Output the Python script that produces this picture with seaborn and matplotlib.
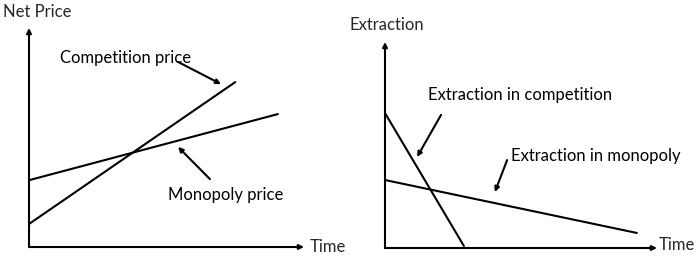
import matplotlib
matplotlib.use("Agg")
import matplotlib.pyplot as plt
import seaborn as sns
import pandas as pd

# ---- data (schematic) ----
price_time = [0.0, 7.5]
competition_price = [1.05, 7.53]
mono_time = [0.0, 9.05]
monopoly_price = [3.05, 6.07]

ext_comp_time = [0.0, 2.90]
extraction_competition = [6.55, 0.10]
ext_mono_time = [0.0, 9.26]
extraction_monopoly = [3.30, 0.73]

left_labels = {"y": "Net Price", "x": "Time",
               "comp": "Competition price", "mono": "Monopoly price"}
right_labels = {"y": "Extraction", "x": "Time",
                "comp": "Extraction in competition", "mono": "Extraction in monopoly"}

sns.set_theme(style="white")
plt.rcParams["font.family"] = ["Lato", "DejaVu Sans"]

fig = plt.figure(figsize=(6.99, 2.59), dpi=100)
W, H = 699, 259
axL = fig.add_axes([29 / W, (H - 247) / H, 275 / W, 219 / H])
axR = fig.add_axes([385 / W, (H - 248) / H, 272 / W, 206 / H])

FS = 12
LW = 1.5


def setup(ax):
    ax.set_xlim(0, 10)
    ax.set_ylim(0, 10)
    ax.axis("off")
    ap = dict(arrowstyle="-|>", lw=LW, color="black", mutation_scale=7,
              shrinkA=0, shrinkB=0)
    ax.annotate("", xy=(10, 0), xytext=(0, 0), arrowprops=ap, annotation_clip=False)
    ax.annotate("", xy=(0, 10), xytext=(0, 0), arrowprops=ap, annotation_clip=False)


def pointer(ax, text, txy, start, end):
    ax.text(txy[0], txy[1], text, fontsize=FS, ha="left", va="center",
            color="black", clip_on=False)
    ax.annotate("", xy=end, xytext=start,
                arrowprops=dict(arrowstyle="-|>", lw=LW, color="black",
                                mutation_scale=7, shrinkA=0, shrinkB=0),
                annotation_clip=False)


# Left panel
setup(axL)
dfL1 = pd.DataFrame({"t": price_time, "v": competition_price})
dfL2 = pd.DataFrame({"t": mono_time, "v": monopoly_price})
sns.lineplot(data=dfL1, x="t", y="v", ax=axL, color="black", lw=LW)
sns.lineplot(data=dfL2, x="t", y="v", ax=axL, color="black", lw=LW)
axL.text(-0.95, 10.73, left_labels["y"], fontsize=FS, ha="left", va="center", clip_on=False)
axL.text(10.22, 0.0, left_labels["x"], fontsize=FS, ha="left", va="center", clip_on=False)
pointer(axL, left_labels["comp"], (1.13, 8.63), (5.42, 8.45), (6.98, 7.44))
pointer(axL, left_labels["mono"], (5.05, 2.37), (6.58, 3.10), (5.42, 4.57))

# Right panel
setup(axR)
dfR1 = pd.DataFrame({"t": ext_comp_time, "v": extraction_competition})
dfR2 = pd.DataFrame({"t": ext_mono_time, "v": extraction_monopoly})
sns.lineplot(data=dfR1, x="t", y="v", ax=axR, color="black", lw=LW)
sns.lineplot(data=dfR2, x="t", y="v", ax=axR, color="black", lw=LW)
axR.text(-1.32, 10.83, right_labels["y"], fontsize=FS, ha="left", va="center", clip_on=False)
axR.text(10.07, 0.15, right_labels["x"], fontsize=FS, ha="left", va="center", clip_on=False)
pointer(axR, right_labels["comp"], (1.58, 7.43), (2.06, 6.46), (1.18, 4.42))
pointer(axR, right_labels["mono"], (4.63, 4.47), (4.49, 4.27), (4.04, 2.72))

fig.savefig("out.png", dpi=100)
